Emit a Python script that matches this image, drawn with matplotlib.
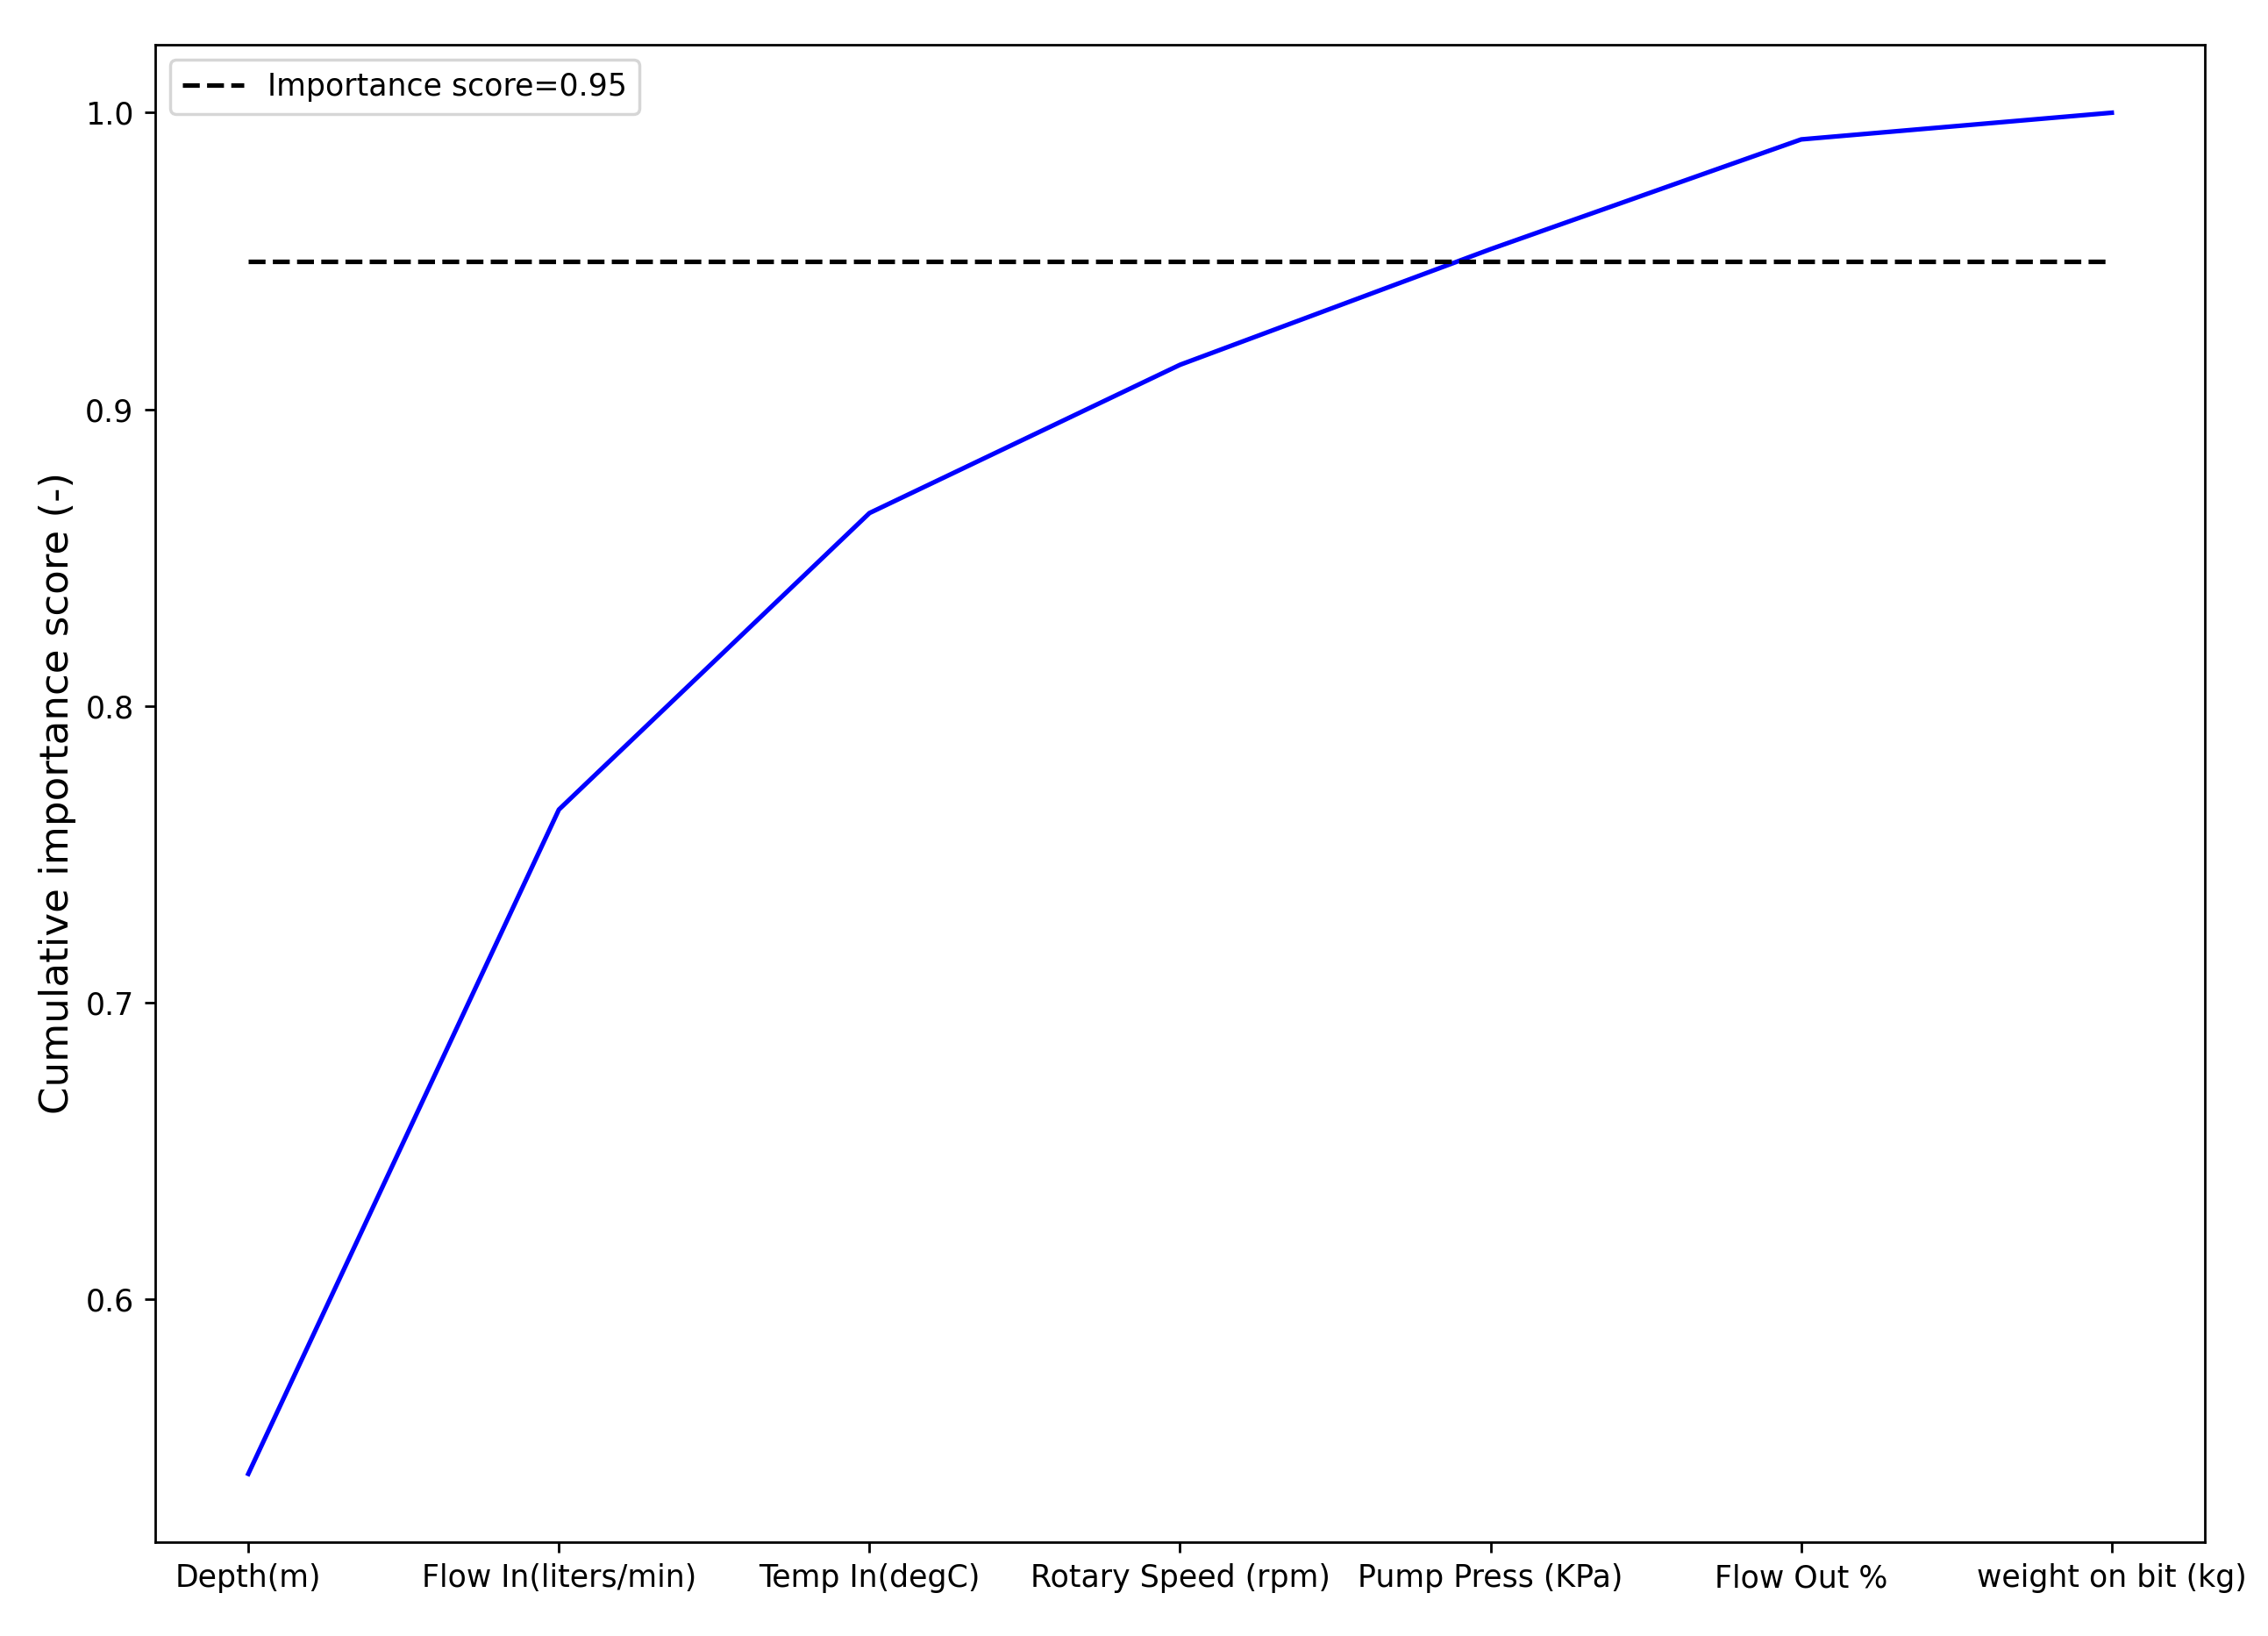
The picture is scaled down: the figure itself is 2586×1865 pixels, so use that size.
import numpy as np
import matplotlib
matplotlib.use('Agg')
import matplotlib.pyplot as plt

# cumulative importance of the drilling features
features = ['Depth(m)', 'Flow In(liters/min)', 'Temp In(degC)', 'Rotary Speed (rpm)',
            'Pump Press (KPa)', 'Flow Out %', 'weight on bit (kg)']
cum_score = [0.541, 0.765, 0.865, 0.915, 0.954, 0.991, 1.0]
threshold = 0.95

fig = plt.figure(figsize=(10.344, 7.46), dpi=250)
ax = fig.add_axes([0.0684, 0.0575, 0.9038, 0.9152])

x = np.arange(len(features))
ax.plot(x, cum_score, 'b', linewidth=1.5)
ax.plot(x, [threshold] * len(features), 'k--', linewidth=1.5, label='Importance score=0.95')

ax.set_xticks(x)
ax.set_xticklabels(features)
ax.set_ylabel('Cumulative importance score (-)', fontsize=13, labelpad=3)
ax.legend(loc='upper left')

fig.savefig('out.png', dpi=250)
